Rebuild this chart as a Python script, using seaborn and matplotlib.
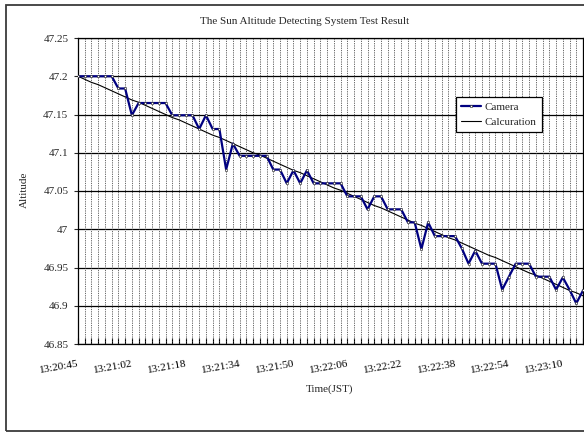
import numpy as np
import pandas as pd
import matplotlib
matplotlib.use("Agg")
import matplotlib.pyplot as plt
import seaborn as sns
from matplotlib.patches import Rectangle
from matplotlib.ticker import FuncFormatter, MultipleLocator

# ---- data ----
camera = [47.200, 47.200, 47.200, 47.200, 47.200, 47.200, 47.184, 47.184, 47.149, 47.165,
          47.165, 47.165, 47.165, 47.165, 47.149, 47.149, 47.149, 47.149, 47.131, 47.149,
          47.131, 47.131, 47.078, 47.112, 47.096, 47.096, 47.096, 47.096, 47.096, 47.078,
          47.078, 47.060, 47.077, 47.060, 47.077, 47.060, 47.060, 47.060, 47.060, 47.060,
          47.043, 47.043, 47.043, 47.026, 47.043, 47.043, 47.026, 47.026, 47.026, 47.009,
          47.009, 46.974, 47.009, 46.991, 46.991, 46.991, 46.991, 46.975, 46.955, 46.972,
          46.955, 46.955, 46.955, 46.921, 46.938, 46.955, 46.955, 46.955, 46.938, 46.938,
          46.938, 46.921, 46.937, 46.921, 46.903, 46.920]

calculation = [47.200, 47.196, 47.192, 47.189, 47.185, 47.181, 47.177, 47.173, 47.169, 47.166,
               47.162, 47.158, 47.154, 47.150, 47.146, 47.143, 47.139, 47.135, 47.131, 47.127,
               47.123, 47.120, 47.116, 47.112, 47.108, 47.104, 47.100, 47.097, 47.093, 47.089,
               47.085, 47.081, 47.077, 47.074, 47.070, 47.066, 47.062, 47.058, 47.054, 47.051,
               47.047, 47.043, 47.039, 47.035, 47.031, 47.028, 47.024, 47.020, 47.016, 47.012,
               47.008, 47.005, 47.001, 46.997, 46.993, 46.989, 46.986, 46.982, 46.978, 46.974,
               46.970, 46.966, 46.963, 46.959, 46.955, 46.951, 46.947, 46.943, 46.940, 46.936,
               46.932, 46.928, 46.924, 46.920, 46.917, 46.913]

time_labels = ["13:20:45", "13:21:02", "13:21:18", "13:21:34", "13:21:50",
               "13:22:06", "13:22:22", "13:22:38", "13:22:54", "13:23:10"]
label_every = 8

title = "The Sun Altitude Detecting System Test Result"
series_names = ["Camera", "Calcuration"]

# ---- figure ----
sns.set_style("white")
plt.rcParams['font.family'] = ['Liberation Serif', 'DejaVu Serif']

W, H = 584, 432
fig = plt.figure(figsize=(W / 100, H / 100), dpi=100)
fig.patch.set_facecolor("white")

L, R, T, B = 78, 583, 38, 344
ax = fig.add_axes([L / W, 1 - B / H, (R - L) / W, (B - T) / H])

idx = np.arange(len(camera))
df = pd.DataFrame({"i": idx, "camera": camera, "calc": calculation})

# vertical dotted gridlines at every category
for k in idx:
    ax.axvline(k, color="#404040", lw=0.55, ls=(0, (1.6, 1.4)), zorder=1)
# horizontal major gridlines
ax.yaxis.set_major_locator(MultipleLocator(0.05))
ax.grid(axis="y", color="black", lw=0.9, zorder=1)
ax.grid(axis="x", visible=False)

sns.lineplot(data=df, x="i", y="calc", ax=ax, color="black", lw=0.8,
             label=series_names[1], zorder=3)
sns.lineplot(data=df, x="i", y="camera", ax=ax, color="#000080", lw=1.6,
             marker="s", markersize=1.9, markerfacecolor="white",
             markeredgecolor="#202020", markeredgewidth=0.4,
             label=series_names[0], zorder=4)

ax.set_xlim(0, len(camera) - 1)
ax.set_ylim(46.85, 47.25)
ax.yaxis.set_major_formatter(FuncFormatter(lambda v, p: f"{v:.2f}".rstrip("0").rstrip(".")))

ticks = list(range(0, len(camera), label_every))[:len(time_labels)]
ax.set_xticks(ticks)
ax.set_xticklabels(time_labels, rotation=10, ha="right", rotation_mode="anchor")
ax.set_xticks(idx, minor=True)
ax.tick_params(axis="x", which="both", direction="in", length=4, width=0.8,
               pad=11, labelsize=8, bottom=True, colors="black")
ax.tick_params(axis="y", direction="out", length=3, width=0.8, pad=4,
               labelsize=8, left=True)

for s in ax.spines.values():
    s.set_color("black")
    s.set_linewidth(0.9)
    s.set_visible(True)

ax.set_xlabel("")
ax.set_ylabel("")

fig.text(330 / W, 1 - 389 / H, "Time(JST)", ha="center", va="center", fontsize=8)
fig.text(24 / W, 1 - 190 / H, "Altitude", ha="center", va="center", rotation=90, fontsize=8)
fig.text(305 / W, 1 - 22 / H, title, ha="center", va="center", fontsize=8)

# legend
h, l = ax.get_legend_handles_labels()
order = [l.index(series_names[0]), l.index(series_names[1])]
leg = ax.legend([h[o] for o in order], [l[o] for o in order],
                loc="upper left",
                bbox_to_anchor=((456 - L) / (R - L), (B - 97) / (B - T)),
                borderaxespad=0, fontsize=8, frameon=True, fancybox=False,
                edgecolor="black", framealpha=1, handlelength=1.8,
                handletextpad=0.35, labelspacing=0.45, borderpad=0.45)
leg.get_frame().set_linewidth(0.9)

# outer chart border (cropped on the right)
fig.add_artist(Rectangle((6 / W, 1 / H), 1.2, 1 - 6 / H, transform=fig.transFigure,
                         fill=False, edgecolor="#3a3a3a", lw=1.3))

fig.savefig("out.png", dpi=100, facecolor="white")
